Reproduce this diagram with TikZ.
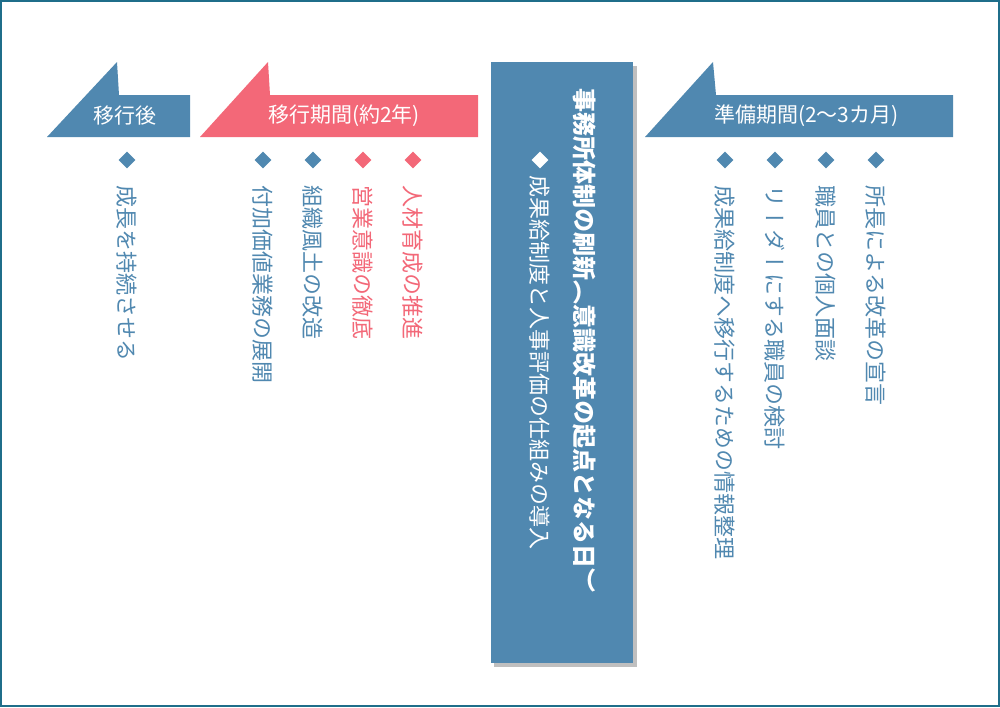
\documentclass[tikz,border=0pt]{standalone}
\usepackage{fontspec}
\usetikzlibrary{shapes.geometric}
\setmainfont{Noto Sans CJK JP}
\newfontfamily\vjp[Vertical=RotatedGlyphs]{Noto Sans CJK JP}
\newfontfamily\vjpb[Vertical=RotatedGlyphs,BoldFont={Noto Sans CJK JP Bold}]{Noto Sans CJK JP}
\definecolor{cb}{HTML}{5088B0}
\definecolor{cp}{HTML}{F36878}
\definecolor{fr}{HTML}{1F6E8A}
\begin{document}
\begin{tikzpicture}[x=1pt,y=-1pt,
  vt/.style={rotate=-90,anchor=west,inner sep=0pt,font=\vjp\fontsize{22}{22}\selectfont},
  dia/.style={diamond,fill=#1,inner sep=0pt,minimum size=17pt},
  head/.style={text=white,inner sep=0pt,anchor=west,font=\fontsize{21}{21}\selectfont}]
\fill[white] (0,0) rectangle (1000,707);
\draw[fr,line width=1.5pt] (1,1) rectangle (999,706);
% headers
\fill[cb] (47,137) -- (117,62) -- (119,95) -- (190,95) -- (190,137) -- cycle;
\node[head] (h1) at (93,116) {移行後};
\fill[cp] (200,137) -- (268,62) -- (270,95) -- (478,95) -- (478,137) -- cycle;
\node[head] (h2) at (268,116) {移行期間(約2年)};
\fill[cb] (645,137) -- (713,62) -- (716,95) -- (953,95) -- (953,137) -- cycle;
\node[head] (h3) at (714,116) {準備期間(2〜3カ月)};
% center box
\fill[black!25] (494,66) rectangle (637,667);
\fill[cb] (491,62) rectangle (633,663);
\node[vt,text=white,font=\vjp\bfseries\fontsize{24}{24}\selectfont] (t) at (584,88) {事務所体制の刷新（意識改革の起点となる日）};
\node[dia=white] (d0) at (540,160) {};
\node[vt,text=white] (c0) at (540,175) {成果給制度と人事評価の仕組みの導入};
% left
\node[dia=cb] (d1) at (127,160) {};
\node[vt,text=cb] (l1) at (127,185) {成長を持続させる};
\node[dia=cb] (d2) at (263,160) {};
\node[vt,text=cb] (p1) at (263,185) {付加価値業務の展開};
\node[dia=cb] (d3) at (313,160) {};
\node[vt,text=cb] (p2) at (313,185) {組織風土の改造};
\node[dia=cp] (d4) at (363,160) {};
\node[vt,text=cp] (p3) at (363,185) {営業意識の徹底};
\node[dia=cp] (d5) at (413,160) {};
\node[vt,text=cp] (p4) at (413,185) {人材育成の推進};
% right
\node[dia=cb] (d6) at (725,160) {};
\node[vt,text=cb] (r1) at (725,185) {成果給制度へ移行するための情報整理};
\node[dia=cb] (d7) at (775,160) {};
\node[vt,text=cb] (r2) at (775,185) {リーダーにする職員の検討};
\node[dia=cb] (d8) at (826,160) {};
\node[vt,text=cb] (r3) at (826,185) {職員との個人面談};
\node[dia=cb] (d9) at (876,160) {};
\node[vt,text=cb] (r4) at (876,185) {所長による改革の宣言};
\end{tikzpicture}
\end{document}
